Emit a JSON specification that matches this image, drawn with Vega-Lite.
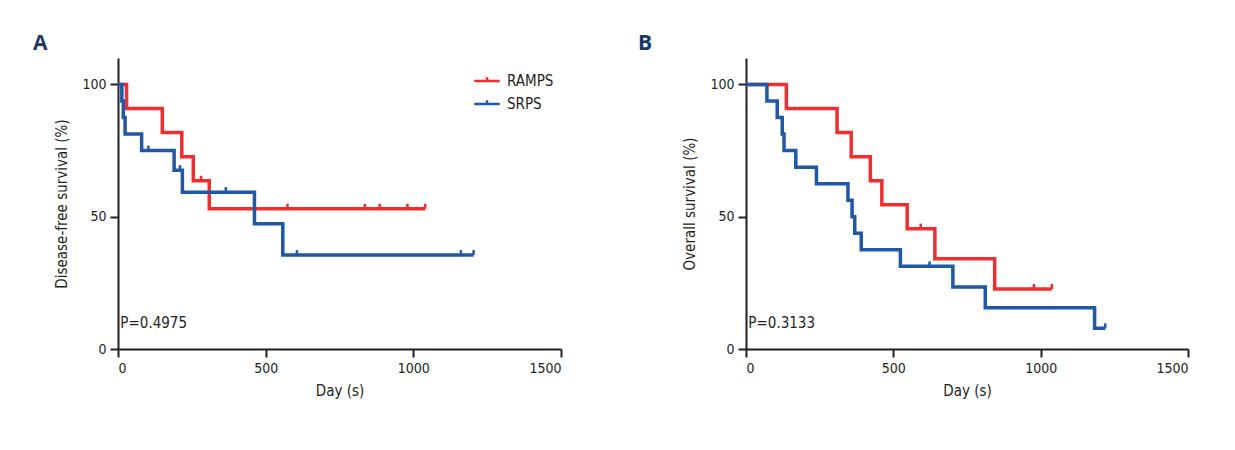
{
  "$schema": "https://vega.github.io/schema/vega-lite/v6.json",
  "padding": {"left": 33, "top": 33, "right": 5, "bottom": 5},
  "background": "white",
  "spacing": 76,
  "config": {
    "font": "'DejaVu Sans Condensed', 'Liberation Sans', sans-serif",
    "view": {"stroke": null},
    "axis": {
      "grid": false,
      "domainColor": "#231f20",
      "domainWidth": 2,
      "tickColor": "#231f20",
      "tickWidth": 2,
      "tickSize": 8,
      "labelFont": "'DejaVu Sans Condensed', 'Liberation Sans', sans-serif",
      "labelFontSize": 14,
      "labelColor": "#231f20",
      "labelPadding": 4,
      "titleFont": "'DejaVu Sans Condensed', 'Liberation Sans', sans-serif",
      "titleFontSize": 15,
      "titleFontWeight": "normal",
      "titleColor": "#231f20",
      "format": "d"
    },
    "legend": {
      "labelFont": "'DejaVu Sans Condensed', 'Liberation Sans', sans-serif",
      "labelFontSize": 15,
      "labelColor": "#231f20"
    }
  },
  "datasets": {
    "curves": [
      {"panel": "A", "group": "RAMPS", "day": 0, "surv": 100},
      {"panel": "A", "group": "RAMPS", "day": 29, "surv": 90.9},
      {"panel": "A", "group": "RAMPS", "day": 150, "surv": 81.8},
      {"panel": "A", "group": "RAMPS", "day": 216, "surv": 72.7},
      {"panel": "A", "group": "RAMPS", "day": 255, "surv": 63.6},
      {"panel": "A", "group": "RAMPS", "day": 309, "surv": 53.0},
      {"panel": "A", "group": "RAMPS", "day": 1040, "surv": 53.0},
      {"panel": "A", "group": "SRPS", "day": 0, "surv": 100},
      {"panel": "A", "group": "SRPS", "day": 13, "surv": 93.75},
      {"panel": "A", "group": "SRPS", "day": 18, "surv": 87.5},
      {"panel": "A", "group": "SRPS", "day": 24, "surv": 81.25},
      {"panel": "A", "group": "SRPS", "day": 80, "surv": 75},
      {"panel": "A", "group": "SRPS", "day": 190, "surv": 67.6},
      {"panel": "A", "group": "SRPS", "day": 218, "surv": 59.3},
      {"panel": "A", "group": "SRPS", "day": 462, "surv": 47.3},
      {"panel": "A", "group": "SRPS", "day": 558, "surv": 35.5},
      {"panel": "A", "group": "SRPS", "day": 1204, "surv": 35.5},
      {"panel": "B", "group": "RAMPS", "day": 0, "surv": 100},
      {"panel": "B", "group": "RAMPS", "day": 137, "surv": 90.9},
      {"panel": "B", "group": "RAMPS", "day": 309, "surv": 81.8},
      {"panel": "B", "group": "RAMPS", "day": 357, "surv": 72.7},
      {"panel": "B", "group": "RAMPS", "day": 422, "surv": 63.6},
      {"panel": "B", "group": "RAMPS", "day": 461, "surv": 54.5},
      {"panel": "B", "group": "RAMPS", "day": 547, "surv": 45.5},
      {"panel": "B", "group": "RAMPS", "day": 641, "surv": 34.1},
      {"panel": "B", "group": "RAMPS", "day": 844, "surv": 22.7},
      {"panel": "B", "group": "RAMPS", "day": 1038, "surv": 22.7},
      {"panel": "B", "group": "SRPS", "day": 0, "surv": 100},
      {"panel": "B", "group": "SRPS", "day": 71, "surv": 93.75},
      {"panel": "B", "group": "SRPS", "day": 106, "surv": 87.5},
      {"panel": "B", "group": "SRPS", "day": 123, "surv": 81.25},
      {"panel": "B", "group": "SRPS", "day": 129, "surv": 75},
      {"panel": "B", "group": "SRPS", "day": 169, "surv": 68.75},
      {"panel": "B", "group": "SRPS", "day": 239, "surv": 62.5},
      {"panel": "B", "group": "SRPS", "day": 346, "surv": 56.25},
      {"panel": "B", "group": "SRPS", "day": 360, "surv": 50},
      {"panel": "B", "group": "SRPS", "day": 369, "surv": 43.75},
      {"panel": "B", "group": "SRPS", "day": 391, "surv": 37.5},
      {"panel": "B", "group": "SRPS", "day": 524, "surv": 31.25},
      {"panel": "B", "group": "SRPS", "day": 702, "surv": 23.4},
      {"panel": "B", "group": "SRPS", "day": 812, "surv": 15.6},
      {"panel": "B", "group": "SRPS", "day": 1183, "surv": 7.8},
      {"panel": "B", "group": "SRPS", "day": 1219, "surv": 7.8}
    ],
    "censors": [
      {"panel": "A", "group": "RAMPS", "day": 281, "surv": 63.6},
      {"panel": "A", "group": "RAMPS", "day": 574, "surv": 53.0},
      {"panel": "A", "group": "RAMPS", "day": 836, "surv": 53.0},
      {"panel": "A", "group": "RAMPS", "day": 886, "surv": 53.0},
      {"panel": "A", "group": "RAMPS", "day": 980, "surv": 53.0},
      {"panel": "A", "group": "RAMPS", "day": 1040, "surv": 53.0},
      {"panel": "A", "group": "SRPS", "day": 103, "surv": 75},
      {"panel": "A", "group": "SRPS", "day": 210, "surv": 67.6},
      {"panel": "A", "group": "SRPS", "day": 365, "surv": 59.3},
      {"panel": "A", "group": "SRPS", "day": 606, "surv": 35.5},
      {"panel": "A", "group": "SRPS", "day": 1161, "surv": 35.5},
      {"panel": "A", "group": "SRPS", "day": 1204, "surv": 35.5},
      {"panel": "B", "group": "RAMPS", "day": 593, "surv": 45.5},
      {"panel": "B", "group": "RAMPS", "day": 977, "surv": 22.7},
      {"panel": "B", "group": "RAMPS", "day": 1038, "surv": 22.7},
      {"panel": "B", "group": "SRPS", "day": 623, "surv": 31.25},
      {"panel": "B", "group": "SRPS", "day": 1219, "surv": 7.8}
    ]
  },
  "resolve": {"legend": {"color": "independent"}},
  "hconcat": [
    {
      "width": 443,
      "height": 291,
      "title": {"text": "A", "anchor": "start", "frame": "group", "dx": -85, "offset": 4, "fontSize": 21, "fontWeight": "bold", "color": "#1c3764", "font": "'Open Sans', 'Liberation Sans', sans-serif"},
      "layer": [
        {
          "data": {"name": "curves"},
          "transform": [{"filter": "datum.panel === 'A'"}],
          "mark": {"type": "line", "interpolate": "step-after", "strokeWidth": 3.5},
          "encoding": {
            "x": {"field": "day", "type": "quantitative", "scale": {"domain": [0, 1500], "nice": false}, "axis": {"values": [0, 500, 1000, 1500], "title": "Day (s)", "titlePadding": 8}},
            "y": {"field": "surv", "type": "quantitative", "scale": {"domain": [0, 110], "nice": false}, "axis": {"values": [0, 50, 100], "title": "Disease-free survival (%)", "titlePadding": 12}},
            "color": {"field": "group", "type": "nominal", "scale": {"domain": ["RAMPS", "SRPS"], "range": ["#ee2f2f", "#1e58a6"]},
              "legend": {"title": null, "orient": "none", "legendX": 355, "legendY": 9, "symbolType": "M-1,0H1M0,0V-0.3", "symbolSize": 650, "symbolStrokeWidth": 2.5, "rowPadding": 1, "labelOffset": 6}}
          }
        },
        {
          "data": {"name": "censors"},
          "transform": [{"filter": "datum.panel === 'A'"}],
          "mark": {"type": "point", "shape": "M0,0V-1", "filled": false, "size": 100, "strokeWidth": 2.5, "opacity": 1},
          "encoding": {
            "x": {"field": "day", "type": "quantitative"},
            "y": {"field": "surv", "type": "quantitative"},
            "stroke": {"field": "group", "type": "nominal", "scale": {"domain": ["RAMPS", "SRPS"], "range": ["#ee2f2f", "#1e58a6"]}, "legend": null}
          }
        },
        {
          "data": {"values": [{"label": "P=0.4975"}]},
          "mark": {"type": "text", "align": "left", "baseline": "middle", "fontSize": 15, "color": "#231f20"},
          "encoding": {
            "x": {"datum": 8, "type": "quantitative"},
            "y": {"datum": 10, "type": "quantitative"},
            "text": {"field": "label"}
          }
        }
      ]
    },
    {
      "width": 442,
      "height": 291,
      "title": {"text": "B", "anchor": "start", "frame": "group", "dx": -108, "offset": 4, "fontSize": 21, "fontWeight": "bold", "color": "#1c3764", "font": "'Open Sans', 'Liberation Sans', sans-serif"},
      "layer": [
        {
          "data": {"name": "curves"},
          "transform": [{"filter": "datum.panel === 'B'"}],
          "mark": {"type": "line", "interpolate": "step-after", "strokeWidth": 3.5},
          "encoding": {
            "x": {"field": "day", "type": "quantitative", "scale": {"domain": [0, 1500], "nice": false}, "axis": {"values": [0, 500, 1000, 1500], "title": "Day (s)", "titlePadding": 8}},
            "y": {"field": "surv", "type": "quantitative", "scale": {"domain": [0, 110], "nice": false}, "axis": {"values": [0, 50, 100], "title": "Overall survival (%)", "titlePadding": 12}},
            "color": {"field": "group", "type": "nominal", "scale": {"domain": ["RAMPS", "SRPS"], "range": ["#ee2f2f", "#1e58a6"]}, "legend": null}
          }
        },
        {
          "data": {"name": "censors"},
          "transform": [{"filter": "datum.panel === 'B'"}],
          "mark": {"type": "point", "shape": "M0,0V-1", "filled": false, "size": 100, "strokeWidth": 2.5, "opacity": 1},
          "encoding": {
            "x": {"field": "day", "type": "quantitative"},
            "y": {"field": "surv", "type": "quantitative"},
            "stroke": {"field": "group", "type": "nominal", "scale": {"domain": ["RAMPS", "SRPS"], "range": ["#ee2f2f", "#1e58a6"]}, "legend": null}
          }
        },
        {
          "data": {"values": [{"label": "P=0.3133"}]},
          "mark": {"type": "text", "align": "left", "baseline": "middle", "fontSize": 15, "color": "#231f20"},
          "encoding": {
            "x": {"datum": 8, "type": "quantitative"},
            "y": {"datum": 10, "type": "quantitative"},
            "text": {"field": "label"}
          }
        }
      ]
    }
  ]
}
